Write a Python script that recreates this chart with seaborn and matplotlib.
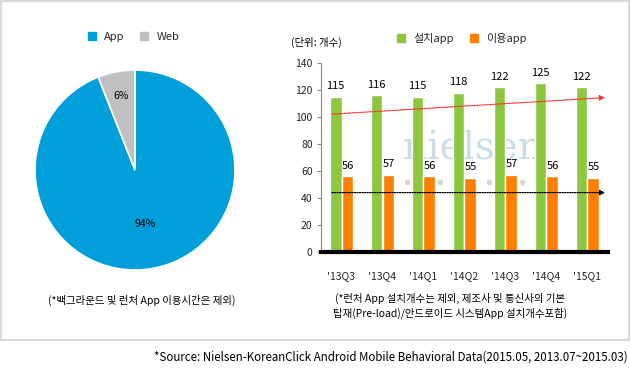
import matplotlib
matplotlib.use("Agg")
import matplotlib.pyplot as plt
import seaborn as sns
import pandas as pd
import numpy as np
from matplotlib.patches import Rectangle
from matplotlib.lines import Line2D

# ---- data ----
pie_labels = ["App", "Web"]
pie_values = [94, 6]
pie_colors = ["#009FD9", "#C0C0C0"]

quarters = ["'13Q3", "'13Q4", "'14Q1", "'14Q2", "'14Q3", "'14Q4", "'15Q1"]
installed = [115, 116, 115, 118, 122, 125, 122]
used = [56, 57, 56, 55, 57, 56, 55]
series_names = ["설치app", "이용app"]
bar_colors = ["#8DC63F", "#FF8000"]
yticks = [0, 20, 40, 60, 80, 100, 120, 140]

trend_installed = [102, 114.5]
trend_used = [44, 44]

sns.set_theme(style="white")
plt.rcParams["font.family"] = ["Noto Sans CJK KR", "DejaVu Sans"]

W, H = 630, 371
fig = plt.figure(figsize=(6.3, 3.71), dpi=100)

def fx(px):
    return px / W

def fy(py):
    return 1 - py / H

# frame
fig.add_artist(Rectangle((fx(0.5), fy(340)), fx(628.5), 340 / H - 0.5 / H, transform=fig.transFigure,
                         fill=False, edgecolor="#D9D9D9", linewidth=1.5))

# ---- pie ----
axp = fig.add_axes([fx(35), fy(270), fx(200), 200 / H])
wedges, texts = axp.pie(pie_values, colors=pie_colors, startangle=90, counterclock=False,
                        wedgeprops=dict(edgecolor="white", linewidth=1.2))
axp.set_xlim(-1, 1)
axp.set_ylim(-1, 1)
axp.set_aspect("auto")
for w, v in zip(wedges, pie_values):
    ang = np.deg2rad((w.theta1 + w.theta2) / 2)
    r = 0.55 if v > 50 else 0.75
    axp.text(r * np.cos(ang), r * np.sin(ang), f"{v}%", ha="center", va="center", fontsize=7.5,
             color="black")
axp.axis("off")

# pie legend
handles = [Line2D([], [], marker="s", linestyle="none", markersize=6, color=c) for c in pie_colors]
fig.legend(handles, pie_labels, loc="center", bbox_to_anchor=(fx(130), fy(37)), ncol=2, frameon=False,
           fontsize=8, handletextpad=0.1, columnspacing=0.8)

fig.text(fx(142), fy(300), "(*백그라운드 및 런처 App 이용시간은 제외)", ha="center", va="center",
         fontsize=7.5, color="black")

# ---- bars ----
df = pd.DataFrame({
    "quarter": quarters * 2,
    "value": installed + used,
    "type": [series_names[0]] * len(quarters) + [series_names[1]] * len(quarters),
})
axb = fig.add_axes([fx(321), fy(252), fx(287), 189 / H])

# watermark
axb.text(3.2, 76, "nielsen", ha="center", va="center", fontsize=28, family="DejaVu Serif",
         color="#BFD8E4", alpha=0.85, zorder=0)
for i in range(8):
    axb.scatter(1.6 + i * 0.4, 52, s=16, color="#D6D6D6", zorder=0, linewidths=0)

sns.barplot(data=df, x="quarter", y="value", hue="type", palette=bar_colors, width=0.58,
            ax=axb, legend=False, saturation=1, zorder=2)
for cont in axb.containers:
    axb.bar_label(cont, padding=4, fontsize=8, color="black")

axb.set_xlim(-0.5, 6.5)
axb.set_ylim(0, 140)
axb.set_yticks(yticks)
axb.set_yticklabels([str(t) for t in yticks])
axb.set_xlabel("")
axb.set_ylabel("")
axb.tick_params(axis="y", left=True, length=3, color="#888888", labelsize=7.5, pad=3, width=0.8)
axb.tick_params(axis="x", bottom=False, labelsize=7.5, pad=8)
for s in ["top", "right"]:
    axb.spines[s].set_visible(False)
axb.spines["left"].set_color("#888888")
axb.spines["left"].set_linewidth(0.8)
axb.spines["bottom"].set_color("black")
axb.spines["bottom"].set_linewidth(3)
axb.grid(False)

# trend arrows
axb.annotate("", xy=(6.5, trend_installed[1]), xytext=(-0.3, trend_installed[0]),
             arrowprops=dict(arrowstyle="-|>", color="#FF3030", linestyle=(0, (1, 1)), lw=0.9,
                             mutation_scale=8), annotation_clip=False, zorder=3)
axb.annotate("", xy=(6.5, trend_used[1]), xytext=(-0.3, trend_used[0]),
             arrowprops=dict(arrowstyle="-|>", color="black", linestyle=(0, (1, 1)), lw=0.9,
                             mutation_scale=8), annotation_clip=False, zorder=3)

# bar legend
handles2 = [Line2D([], [], marker="s", linestyle="none", markersize=6, color=c) for c in bar_colors]
fig.legend(handles2, series_names, loc="center", bbox_to_anchor=(fx(458), fy(38)), ncol=2,
           frameon=False, fontsize=8, handletextpad=0.1, columnspacing=0.8)
fig.text(fx(291), fy(42), "(단위: 개수)", ha="left", va="center", fontsize=7.5, color="black")

fig.text(fx(450), fy(298), "(*런처 App 설치개수는 제외, 제조사 및 통신사의 기본", ha="center",
         va="center", fontsize=7.5, color="black")
fig.text(fx(450), fy(313), "탑재(Pre-load)/안드로이드 시스템App 설치개수포함)", ha="center",
         va="center", fontsize=7.5, color="black")

fig.text(fx(628), fy(357), "*Source: Nielsen-KoreanClick Android Mobile Behavioral Data(2015.05, 2013.07~2015.03)",
         ha="right", va="center", fontsize=8.3, color="black")

fig.savefig("out.png", dpi=100)
